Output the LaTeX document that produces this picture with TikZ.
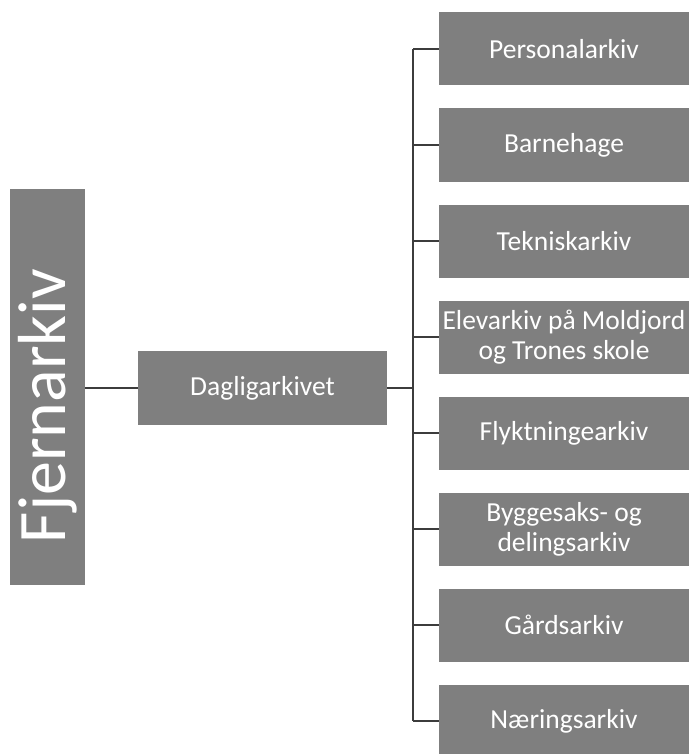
\documentclass[tikz,border=0pt]{standalone}
\usepackage{fontspec}
\setmainfont{Carlito}
\usepackage{tikz}
\usetikzlibrary{calc}

\definecolor{boxgray}{RGB}{127,127,127}
\definecolor{linegray}{RGB}{60,60,60}

\begin{document}
\begin{tikzpicture}[x=1pt, y=-1pt,
  archive/.style={rectangle, fill=boxgray, text=white, inner sep=0pt, align=center,
    font=\fontsize{27.5}{30}\selectfont},
  link/.style={draw=linegray, line width=1.3pt}]

\useasboundingbox (0,0) rectangle (689,754);
\clip (0,0) rectangle (689,754);

% First, the two boxes on the left
\draw (47.5,387) node[archive, rotate=90, minimum width=396pt, minimum height=75pt,
  font=\fontsize{68}{72}\selectfont] (fj) {Fjernarkiv\hspace*{38pt}};
\draw (262.5,388) node[archive, minimum width=249pt, minimum height=74pt] (dag) {Dagligarkivet};

% the trunk that the eight boxes hang on
\coordinate (trunk) at (413,0);

% Now the eight boxes on the right, named b1, b2, b3, etc..
\foreach \t [count=\i] in {Personalarkiv, Barnehage, Tekniskarkiv,
  {Elevarkiv på Moldjord\\og Trones skole}, Flyktningearkiv,
  {Byggesaks- og\\delingsarkiv}, Gårdsarkiv, Næringsarkiv} {
  \draw (564,{49+96*(\i-1)}) node[archive, minimum width=250pt, minimum height=73pt] (b\i) {\t};
  \draw[link] (b\i.west -| trunk) -- (b\i.west);
}

% Finally the connectors
\draw[link] (dag.west -| fj.south) -- (dag.west);
\draw[link] (dag.east) -- (dag.east -| trunk);
\draw[link] (b1.west -| trunk) -- (b8.west -| trunk);

\end{tikzpicture}
\end{document}
